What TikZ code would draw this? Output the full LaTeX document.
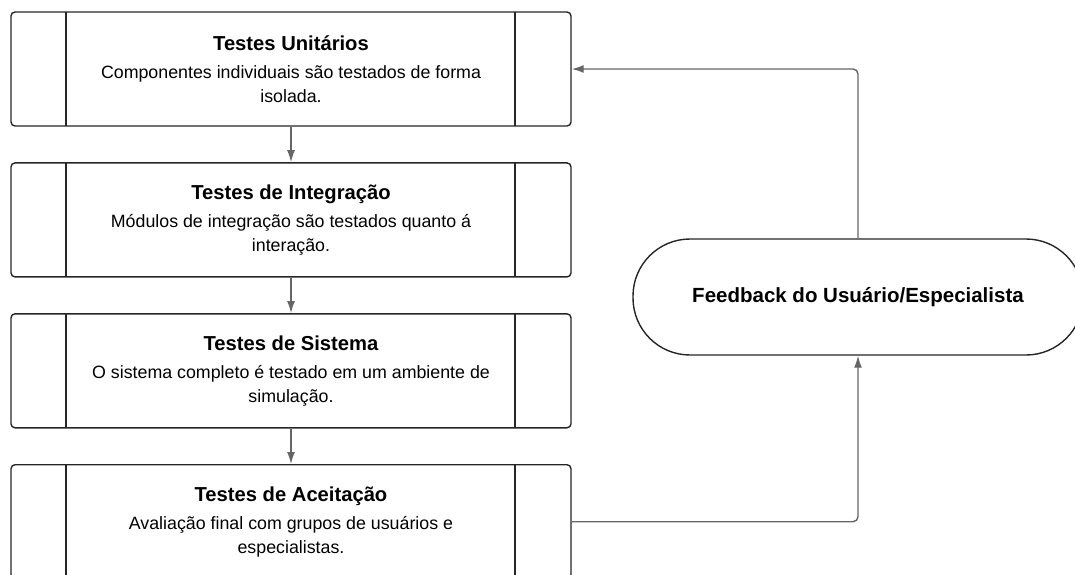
\documentclass[tikz,border=0pt]{standalone}
\usepackage{fontspec}
\setmainfont{Liberation Sans}
\usetikzlibrary{arrows.meta,positioning}

\begin{document}
\begin{tikzpicture}[x=1pt,y=-1pt,>=Latex,
  etapa/.style={draw=black!85,line width=1.4pt,rounded corners=4pt,fill=white,
    minimum width=560pt,minimum height=114pt,align=center,
    font=\fontsize{17.8}{24}\selectfont,
    path picture={
      \draw[black!85,line width=1.4pt]
        ([xshift=55pt]path picture bounding box.north west) --
        ([xshift=55pt]path picture bounding box.south west)
        ([xshift=-56pt]path picture bounding box.north east) --
        ([xshift=-56pt]path picture bounding box.south east);
    }},
  retorno/.style={draw=black!85,line width=1.4pt,rounded corners=57pt,fill=white,
    minimum width=450pt,minimum height=116pt,
    font=\bfseries\fontsize{20.5}{24}\selectfont},
  seta/.style={draw=black!60,line width=1.4pt,rounded corners=5pt,
    -{Latex[length=12pt,width=8pt]}}]
  \def\titulo#1{{\bfseries\fontsize{20.2}{24}\selectfont #1}\\[4pt]}

  \useasboundingbox (0,0) rectangle (1075,574);
  \clip (0,0) rectangle (1075,574);

  % etapas de teste (coluna da esquerda)
  \node[etapa] (unit) at (291,69)
    {\titulo{Testes Unitários}Componentes individuais são testados de forma\\isolada.};
  \node[etapa,below=35.5pt of unit] (integ)
    {\titulo{Testes de Integração}Módulos de integração são testados quanto á\\interação.};
  \node[etapa,below=35.5pt of integ] (sist)
    {\titulo{Testes de Sistema}O sistema completo é testado em um ambiente de\\simulação.};
  \node[etapa,below=35.5pt of sist] (acei)
    {\titulo{Testes de Aceitação}Avaliação final com grupos de usuários e\\especialistas.};

  % feedback
  \node[retorno] (fb) at (858,297) {Feedback do Usuário/Especialista};

  % conexões
  \draw[seta] (unit) -- (integ);
  \draw[seta] (integ) -- (sist);
  \draw[seta] (sist) -- (acei);
  \draw[seta] (acei.east) -| (fb.south);
  \draw[seta] (fb.north) |- (unit.east);
\end{tikzpicture}
\end{document}
